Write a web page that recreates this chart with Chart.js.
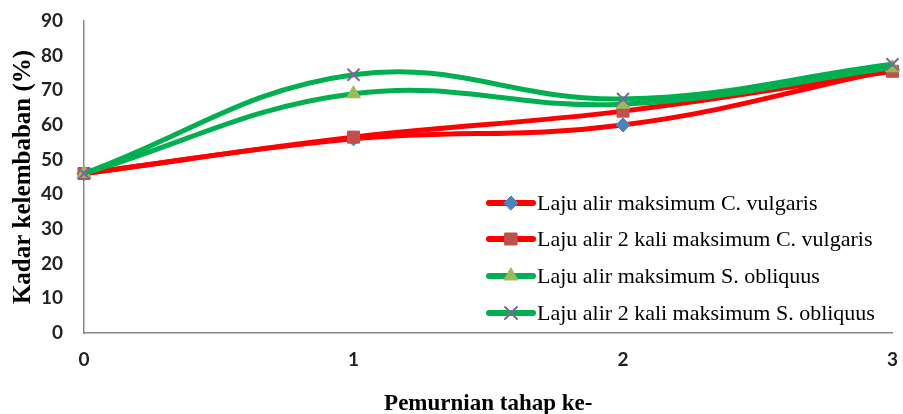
<!DOCTYPE html>
<html><head><meta charset="utf-8">
<script src="https://cdn.jsdelivr.net/npm/chart.js@4"></script>
<style>html,body{margin:0;padding:0;background:#fff}#wrap{width:903px;height:414px;position:relative}</style>
</head><body><div id="wrap"><canvas id="c" width="903" height="414"></canvas></div>
<script>
const stages = [0, 1, 2, 3];
const cvMax = [46, 56, 60, 76];
const cv2xMax = [46, 56.5, 64, 75.5];
const soMax = [46, 69, 66, 76.5];
const so2xMax = [46, 74.5, 67.5, 77.5];
const seriesNames = [
  'Laju alir maksimum C. vulgaris',
  'Laju alir 2 kali maksimum C. vulgaris',
  'Laju alir maksimum S. obliquus',
  'Laju alir 2 kali maksimum S. obliquus'
];
const xTitle = 'Pemurnian tahap ke-';
const yTitle = 'Kadar kelembaban (%)';

function pts(vals){ return stages.map((s,i)=>({x:s, y:vals[i]})); }

const legendPlugin = {
  id: 'insideLegend',
  afterDraw(chart){
    const ctx = chart.ctx;
    const x0 = 489, x1 = 533, tx = 537, ys = [203, 239, 276, 313];
    chart.data.datasets.forEach((ds, i) => {
      ctx.save();
      ctx.strokeStyle = ds.borderColor; ctx.lineWidth = 6; ctx.lineCap = 'round';
      ctx.beginPath(); ctx.moveTo(x0, ys[i]); ctx.lineTo(x1, ys[i]); ctx.stroke();
      ctx.fillStyle = ds.pointBackgroundColor; ctx.strokeStyle = ds.pointBorderColor;
      ctx.lineWidth = ds.pointBorderWidth;
      Chart.helpers.drawPoint(ctx, {pointStyle: ds.pointStyle, radius: ds.pointRadius, borderWidth: ds.pointBorderWidth, rotation: 0}, (x0 + x1) / 2, ys[i]);
      ctx.fillStyle = '#000'; ctx.font = '22px "Liberation Serif"';
      ctx.textBaseline = 'middle'; ctx.textAlign = 'left';
      ctx.fillText(ds.label, tx, ys[i] + 1);
      ctx.restore();
    });
  }
};

const common = { borderWidth: 5, tension: 0.4, clip: false, fill: false };
new Chart(document.getElementById('c'), {
  type: 'line',
  data: {
    datasets: [
      Object.assign({label: seriesNames[0], data: pts(cvMax), borderColor: '#FF0000', pointStyle: 'rectRot', pointRadius: 7, pointBackgroundColor: '#4F81BD', pointBorderColor: '#4F81BD', pointBorderWidth: 1, order: 4}, common),
      Object.assign({label: seriesNames[1], data: pts(cv2xMax), borderColor: '#FF0000', pointStyle: 'rect', pointRadius: 8.5, pointBackgroundColor: '#C0504D', pointBorderColor: '#C0504D', pointBorderWidth: 1, order: 3}, common),
      Object.assign({label: seriesNames[2], data: pts(soMax), borderColor: '#00B050', pointStyle: 'triangle', pointRadius: 8, pointBackgroundColor: '#9BBB59', pointBorderColor: '#9BBB59', pointBorderWidth: 1, order: 2}, common),
      Object.assign({label: seriesNames[3], data: pts(so2xMax), borderColor: '#00B050', pointStyle: 'crossRot', pointRadius: 8.5, pointBackgroundColor: '#8064A2', pointBorderColor: '#8064A2', pointBorderWidth: 2, order: 1}, common)
    ]
  },
  options: {
    responsive: false,
    animation: false,
    events: [],
    layout: { padding: { top: 21, right: 7, left: 0, bottom: 0 } },
    plugins: { legend: { display: false }, tooltip: { enabled: false } },
    scales: {
      x: {
        type: 'linear', min: 0, max: 3,
        ticks: { stepSize: 1, padding: 15, color: '#222', font: { family: 'Lato', weight: 'bold', size: 19 } },
        grid: { display: false, drawTicks: false },
        border: { display: true, color: '#8a8a8a', width: 1.5 },
        title: { display: true, text: xTitle, color: '#000', font: { family: 'Liberation Serif', weight: 'bold', size: 23 }, padding: { top: 0, bottom: -4 } },
        afterFit(s){ s.height = 81; s.paddingLeft = 0; s.paddingRight = 0; }
      },
      y: {
        min: 0, max: 90,
        ticks: { stepSize: 10, padding: 21, color: '#222', font: { family: 'Lato', weight: 'bold', size: 19 } },
        grid: { display: false, drawTicks: false },
        border: { display: true, color: '#8a8a8a', width: 1.5 },
        title: { display: true, text: yTitle, color: '#000', font: { family: 'Liberation Serif', weight: 'bold', size: 25 }, padding: { top: 9, bottom: 0 } },
        afterFit(s){ s.width = 84; s.paddingTop = 0; s.paddingBottom = 0; }
      }
    }
  },
  plugins: [legendPlugin]
});
</script></body></html>
